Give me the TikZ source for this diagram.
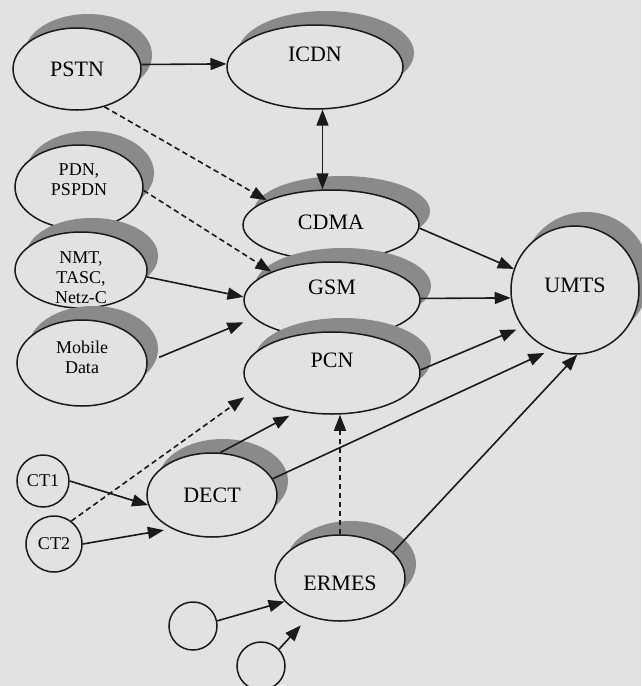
\documentclass[tikz,border=0pt]{standalone}
\usepackage{fontspec}
\setmainfont{Liberation Serif}
\usetikzlibrary{arrows.meta,shapes.geometric,shadows}
\definecolor{bgc}{HTML}{E2E2E2}
\definecolor{shc}{HTML}{8A8A8A}
\definecolor{ink}{HTML}{1A1A1A}
\begin{document}
\begin{tikzpicture}[x=1pt,y=-1pt,
  >={Triangle[length=16pt,width=12pt]},
  net/.style={ellipse, draw=ink, line width=1.5pt, fill=bgc, inner sep=0pt,
    font=\fontsize{22}{24}\selectfont},
  sh/.style={general shadow={fill=shc, shadow xshift=11pt, shadow yshift=14pt}},
  smallc/.style={circle, draw=ink, line width=1.5pt, fill=bgc, inner sep=0pt,
    font=\fontsize{18}{20}\selectfont},
  arr/.style={draw=ink, line width=1.6pt, ->},
  dsh/.style={arr, dash pattern=on 5.5pt off 3.5pt},
  lbl/.style={font=\fontsize{18}{20}\selectfont, align=center, inner sep=0pt}
]
\fill[bgc] (0,0) rectangle (641,686);
\useasboundingbox (0,0) rectangle (641,686);

% left column
\node[net,sh,minimum width=128pt,minimum height=82pt] (pstn) at (77,69) {PSTN};
\node[net,sh,minimum width=176pt,minimum height=84pt,text depth=26pt] (icdn) at (315,67) {ICDN};
\node[net,sh,minimum width=128pt,minimum height=84pt,
  label={[lbl,yshift=7pt]center:PDN,\\PSPDN}] (pdn) at (79,187) {};
\node[net,sh,minimum width=132pt,minimum height=76pt,
  label={[lbl,yshift=-8pt]center:NMT,\\TASC,\\Netz-C}] (nmt) at (81,270) {};
\node[net,sh,minimum width=130pt,minimum height=86pt,
  label={[lbl,yshift=6pt]center:Mobile\\Data}] (mob) at (82,363) {};

% middle column
\node[net,sh,minimum width=176pt,minimum height=70pt,text depth=6pt] (cdma) at (331,225) {CDMA};
\node[net,sh,minimum width=176pt,minimum height=76pt,text depth=26pt] (gsm) at (332,300) {GSM};
\node[net,sh,minimum width=176pt,minimum height=82pt,text depth=26pt] (pcn) at (332,373) {PCN};
\node[net,sh,circle,minimum size=128pt,text depth=10pt] (umts) at (575,290) {UMTS};

% lower part
\node[smallc,minimum size=52pt] (ct1) at (43,481) {CT1};
\node[smallc,minimum size=56pt] (ct2) at (54,544) {CT2};
\node[net,sh,minimum width=130pt,minimum height=84pt] (dect) at (212,495) {DECT};
\node[net,sh,minimum width=130pt,minimum height=86pt,text height=25pt] (ermes) at (340,578) {ERMES};
\node[smallc,minimum size=48pt] (c1) at (193,626) {};
\node[smallc,minimum size=48pt] (c2) at (261,666) {};

% connectors
\draw[arr] (pstn.4) -- (icdn.178);
\draw[arr,<->] (icdn.-80) -- (icdn.-80 |- cdma.north);
\draw[dsh] (pstn.-54) -- (cdma.159);
\draw[dsh] (pdn.-3) -- (gsm.155);
\draw[arr] (nmt.-6) -- (gsm.178);
\draw[arr,shorten >=11pt] ([xshift=12pt]mob.5) -- (gsm.193);
\draw[arr] (cdma.-2) -- (umts.161);
\draw[arr] (gsm.1) -- (umts.187);
\draw[arr,shorten >=6pt] (pcn.2) -- (umts.215);
\draw[arr,shorten >=7pt] (dect.15) -- (umts.248);
\draw[arr] (ermes.26) -- (umts.272);
\draw[arr] (ct1.east) -- (dect.189);
\draw[arr,shorten >=8pt] (ct2.east) -- (dect.220);
\draw[dsh,shorten >=10pt] (ct2.53) -- (pcn.193);
\draw[arr,shorten >=9pt] (dect.79) -- (pcn.228);
\draw[dsh] (ermes.north) -- (ermes.north |- pcn.south);
\draw[arr] (c1.12) -- (ermes.203);
\draw[arr,shorten >=12pt] (c2.43) -- (ermes.231);
\end{tikzpicture}
\end{document}
